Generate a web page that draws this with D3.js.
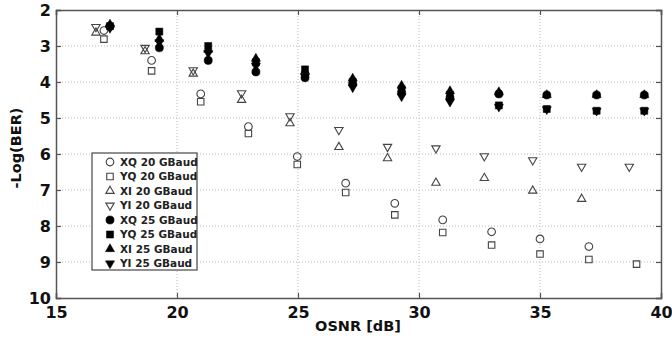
<!DOCTYPE html>
<html><head><meta charset="utf-8">
<script src="https://cdn.jsdelivr.net/npm/d3@7"></script>
<style>body{margin:0;background:#fff}svg{display:block;font-family:"DejaVu Sans",Verdana,sans-serif}</style>
</head><body><svg id="c" width="672" height="342"></svg>
<script>
// ---- data ----
const xTicks = [15, 20, 25, 30, 35, 40];
const yTicks = [2, 3, 4, 5, 6, 7, 8, 9, 10];

const xq20X = [16.98, 18.95, 20.98, 22.95, 24.97, 26.97, 29.0, 30.98, 33.0, 35.0, 37.02];
const xq20Y = [2.57, 3.4, 4.33, 5.24, 6.07, 6.81, 7.37, 7.83, 8.16, 8.36, 8.57];
const yq20X = [16.98, 18.95, 20.98, 22.95, 24.97, 26.97, 29.0, 30.98, 33.0, 35.0, 37.02, 38.99];
const yq20Y = [2.81, 3.69, 4.55, 5.43, 6.29, 7.07, 7.69, 8.18, 8.53, 8.78, 8.93, 9.06];
const xi20X = [16.65, 18.68, 20.67, 22.67, 24.67, 26.69, 28.7, 30.7, 32.7, 34.7, 36.72];
const xi20Y = [2.63, 3.15, 3.77, 4.5, 5.15, 5.81, 6.12, 6.8, 6.67, 7.02, 7.25];
const yi20X = [16.65, 18.68, 20.67, 22.67, 24.67, 26.69, 28.7, 30.7, 32.7, 34.7, 36.72, 38.69];
const yi20Y = [2.47, 3.05, 3.67, 4.31, 4.95, 5.33, 5.8, 5.84, 6.06, 6.17, 6.35, 6.35];

const osnr25 = [17.23, 19.27, 21.29, 23.26, 25.29, 27.26, 29.28, 31.28, 33.3, 35.28, 37.34, 39.31];
const xq25Y = [2.45, 3.05, 3.4, 3.72, 3.88, 4.05, 4.3, 4.45, 4.33, 4.36, 4.36, 4.36];
const yq25Y = [2.45, 2.6, 3.0, 3.45, 3.65, 4.0, 4.2, 4.35, 4.65, 4.75, 4.8, 4.8];
const xi25Y = [2.4, 2.8, 3.1, 3.35, 3.7, 3.9, 4.1, 4.25, 4.28, 4.36, 4.36, 4.36];
const yi25Y = [2.5, 2.9, 3.2, 3.55, 3.85, 4.15, 4.4, 4.55, 4.69, 4.76, 4.8, 4.8];

const seriesNames = ["XQ 20 GBaud", "YQ 20 GBaud", "XI 20 GBaud", "YI 20 GBaud",
                     "XQ 25 GBaud", "YQ 25 GBaud", "XI 25 GBaud", "YI 25 GBaud"];

// ---- build ----
const series = [
  {name: seriesNames[0], xs: xq20X, ys: xq20Y, shape: "circle", filled: false},
  {name: seriesNames[1], xs: yq20X, ys: yq20Y, shape: "square", filled: false},
  {name: seriesNames[2], xs: xi20X, ys: xi20Y, shape: "up", filled: false},
  {name: seriesNames[3], xs: yi20X, ys: yi20Y, shape: "down", filled: false},
  {name: seriesNames[4], xs: osnr25, ys: xq25Y, shape: "circle", filled: true},
  {name: seriesNames[5], xs: osnr25, ys: yq25Y, shape: "square", filled: true},
  {name: seriesNames[6], xs: osnr25, ys: xi25Y, shape: "up", filled: true},
  {name: seriesNames[7], xs: osnr25, ys: yi25Y, shape: "down", filled: true}
];

const L = 56, R = 661, T = 10, B = 298;
const svg = d3.select("#c");
const x = d3.scaleLinear().domain([15, 40]).range([L, R]);
const y = d3.scaleLinear().domain([2, 10]).range([T, B]);

// grid
const g = svg.append("g");
g.selectAll(".gx").data(xTicks.slice(1, -1)).join("line")
  .attr("x1", d => x(d)).attr("x2", d => x(d)).attr("y1", T).attr("y2", B)
  .attr("stroke", "#bbb").attr("stroke-width", 1).attr("stroke-dasharray", "1,2");
g.selectAll(".gy").data(yTicks.slice(1, -1)).join("line")
  .attr("y1", d => y(d)).attr("y2", d => y(d)).attr("x1", L).attr("x2", R)
  .attr("stroke", "#bbb").attr("stroke-width", 1).attr("stroke-dasharray", "1,2");

// axes
const ax = svg.append("g").attr("transform", `translate(0,${B})`)
  .call(d3.axisBottom(x).tickValues(xTicks).tickSize(-5).tickPadding(8));
const ay = svg.append("g").attr("transform", `translate(${L},0)`)
  .call(d3.axisLeft(y).tickValues(yTicks).tickSize(-5).tickPadding(5));
const axT = svg.append("g").attr("transform", `translate(0,${T})`)
  .call(d3.axisTop(x).tickValues(xTicks).tickSize(-5).tickFormat(""));
const ayR = svg.append("g").attr("transform", `translate(${R},0)`)
  .call(d3.axisRight(y).tickValues(yTicks).tickSize(-5).tickFormat(""));
[ax, ay, axT, ayR].forEach(a => {
  a.select(".domain").attr("stroke", "#555").attr("stroke-width", 1.5);
  a.selectAll(".tick line").attr("stroke", "#555").attr("stroke-width", 1.2);
  a.selectAll("text").attr("fill", "#111").attr("font-weight", "bold")
    .attr("font-size", 16).attr("font-family", "DejaVu Sans, sans-serif");
});
ax.selectAll(".tick text").attr("dy", "0.72em");

// titles
svg.append("text").attr("x", 358).attr("y", 331).attr("text-anchor", "middle")
  .attr("font-weight", "bold").attr("font-size", 14.5).attr("fill", "#111").text("OSNR [dB]");
svg.append("text").attr("transform", `translate(21,148) rotate(-90)`)
  .attr("text-anchor", "middle").attr("font-weight", "bold").attr("font-size", 14.5)
  .attr("fill", "#111").text("-Log(BER)");

// markers
function sym(shape, filled) {
  if (shape === "circle") return d3.symbol(d3.symbolCircle, filled ? 52 : 46)();
  if (shape === "square") return d3.symbol(d3.symbolSquare, filled ? 50 : 42)();
  return d3.symbol(d3.symbolTriangle, filled ? 36 : 30)();
}
const marks = svg.append("g");
series.forEach(s => {
  const pts = s.xs.map((v, i) => [v, s.ys[i]]);
  marks.append("g").selectAll("path").data(pts).join("path")
    .attr("d", sym(s.shape, s.filled))
    .attr("transform", d => `translate(${x(d[0])},${y(d[1])})` + (s.shape === "down" ? " rotate(180)" : ""))
    .attr("fill", s.filled ? "#000" : "none")
    .attr("stroke", s.filled ? "#000" : "#444")
    .attr("stroke-width", s.filled ? 0.5 : 1.1);
});

// legend
const lg = svg.append("g");
lg.append("rect").attr("x", 92).attr("y", 153).attr("width", 105).attr("height", 117)
  .attr("fill", "#fff").attr("stroke", "#555").attr("stroke-width", 1.3);
series.forEach((s, i) => {
  const yy = 162 + i * 14.5;
  lg.append("path").attr("d", sym(s.shape, s.filled))
    .attr("transform", `translate(110,${yy})` + (s.shape === "down" ? " rotate(180)" : ""))
    .attr("fill", s.filled ? "#000" : "none").attr("stroke", s.filled ? "#000" : "#444")
    .attr("stroke-width", s.filled ? 0.5 : 1.1);
  lg.append("text").attr("x", 120).attr("y", yy).attr("dy", "0.35em")
    .attr("font-size", 10.5).attr("font-weight", "bold").attr("fill", "#222").text(s.name);
});
</script></body></html>
